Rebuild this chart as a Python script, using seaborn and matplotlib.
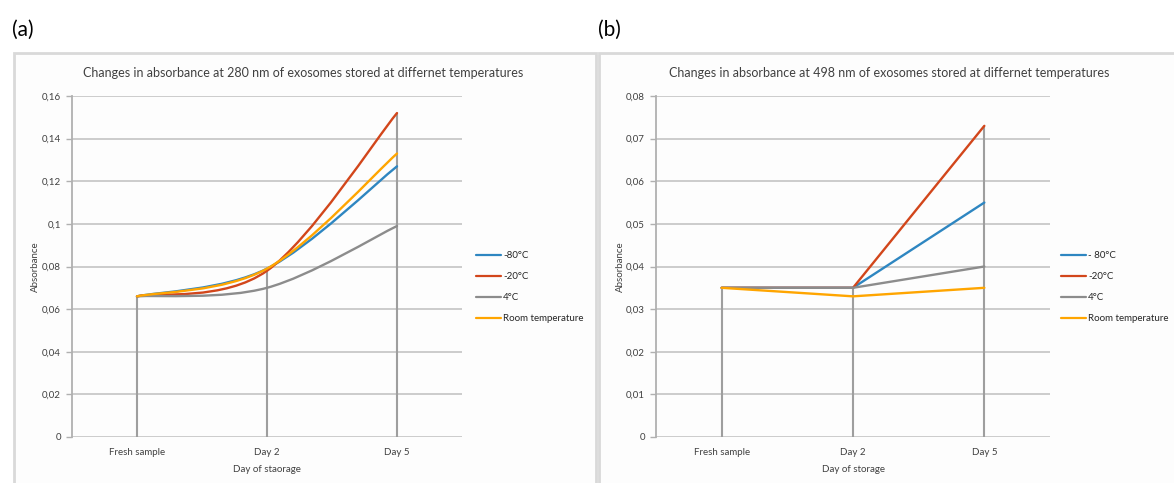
import matplotlib
matplotlib.use("Agg")
import matplotlib.pyplot as plt
from matplotlib.path import Path
from matplotlib.patches import PathPatch, Rectangle
from matplotlib.lines import Line2D
import seaborn as sns
import pandas as pd

# данные
days = ["Fresh sample", "Day 2", "Day 5"]
series_a = ["-80°C", "-20°C", "4°C", "Room temperature"]
series_b = ["- 80°C", "-20°C", "4°C", "Room temperature"]
colors = ["#2E86C1", "#D2461B", "#8C8C8C", "#FFA500"]

abs280_m80 = [0.066, 0.079, 0.127]
abs280_m20 = [0.066, 0.078, 0.152]
abs280_4 = [0.066, 0.070, 0.099]
abs280_rt = [0.066, 0.079, 0.133]

abs498_m80 = [0.035, 0.035, 0.055]
abs498_m20 = [0.035, 0.035, 0.073]
abs498_4 = [0.035, 0.035, 0.040]
abs498_rt = [0.035, 0.033, 0.035]

sns.set_style("white")
plt.rcParams['font.family'] = ['Lato', 'DejaVu Sans']

W, H = 1174, 483
fig = plt.figure(figsize=(W / 100, H / 100), dpi=100)
fig.patch.set_facecolor("white")


def px(x0, y0, x1, y1):
    return [x0 / W, 1 - y1 / H, (x1 - x0) / W, (y1 - y0) / H]


# рамки панелей
for x0, x1 in [(14, 596), (599, 1180)]:
    fig.patches.append(Rectangle((x0 / W, -0.02), (x1 - x0) / W, 1 - 53 / H + 0.02,
                                 transform=fig.transFigure, facecolor="#fdfdfd",
                                 edgecolor="#d9d9d9", lw=2, zorder=-10))


def smooth_path(xs, ys):
    # сглаживание как в Excel (Catmull-Rom -> Bezier)
    pts = list(zip(xs, ys))
    verts = [pts[0]]
    codes = [Path.MOVETO]
    for i in range(len(pts) - 1):
        p0 = pts[i - 1] if i > 0 else pts[i]
        p1, p2 = pts[i], pts[i + 1]
        p3 = pts[i + 2] if i + 2 < len(pts) else pts[i + 1]
        c1 = (p1[0] + (p2[0] - p0[0]) / 6, p1[1] + (p2[1] - p0[1]) / 6)
        c2 = (p2[0] - (p3[0] - p1[0]) / 6, p2[1] - (p3[1] - p1[1]) / 6)
        verts += [c1, c2, p2]
        codes += [Path.CURVE4] * 3
    return Path(verts, codes)


def style_axes(ax, ymax, step, xlabel):
    ax.set_facecolor("none")
    ax.set_xlim(-0.5, 2.5)
    ax.set_ylim(0, ymax)
    ticks = [round(i * step, 3) for i in range(int(round(ymax / step)) + 1)]
    ax.set_yticks(ticks)
    ax.set_yticklabels([f"{t:g}".replace(".", ",") for t in ticks], fontsize=7, color="#404040")
    ax.set_xticks(range(len(days)))
    ax.set_xticklabels(days, fontsize=7, color="#404040")
    ax.grid(axis="y", color="#c8c8c8", lw=1.3)
    ax.set_axisbelow(True)
    for s in ["top", "right", "bottom"]:
        ax.spines[s].set_visible(False)
    ax.spines["left"].set_color("#b0b0b0")
    ax.spines["left"].set_linewidth(1.3)
    ax.tick_params(axis="y", length=4, width=1, color="#b0b0b0", pad=4, left=True)
    ax.tick_params(axis="x", length=0, pad=8)
    ax.set_xlabel(xlabel, fontsize=7, color="#404040", labelpad=6)
    ax.set_ylabel("Absorbance", fontsize=7, color="#404040", labelpad=1)


handles = [Line2D([], [], color=c, lw=1.6) for c in colors]
leg_kw = dict(loc="upper left", frameon=False, fontsize=7, handlelength=2.6,
              handletextpad=0.2, labelspacing=1.25, borderpad=0, borderaxespad=0)

# (a) 280 nm
ax1 = fig.add_axes(px(72, 96, 462, 437))
data_a = [abs280_m80, abs280_m20, abs280_4, abs280_rt]
drop_a = [max(v[i] for v in data_a) for i in range(len(days))]
ax1.vlines(range(len(days)), 0, drop_a, color="#9e9e9e", lw=1.5, zorder=2)
for vals, c in zip(data_a, colors):
    ax1.add_patch(PathPatch(smooth_path(range(len(days)), vals), facecolor="none",
                            edgecolor=c, lw=1.7, zorder=3, capstyle="round"))
style_axes(ax1, 0.16, 0.02, "Day of staorage")
fig.legend(handles, series_a, bbox_to_anchor=(476 / W, 1 - 251 / H), **leg_kw)

# (b) 498 nm
ax2 = fig.add_axes(px(656, 96, 1050, 437))
data_b = [abs498_m80, abs498_m20, abs498_4, abs498_rt]
drop_b = [max(v[i] for v in data_b) for i in range(len(days))]
ax2.vlines(range(len(days)), 0, drop_b, color="#9e9e9e", lw=1.5, zorder=2)
df_b = pd.DataFrame({
    "day": list(range(len(days))) * 4,
    "value": abs498_m80 + abs498_m20 + abs498_4 + abs498_rt,
    "series": [s for s in series_b for _ in days],
})
sns.lineplot(data=df_b, x="day", y="value", hue="series", palette=colors,
             hue_order=series_b, lw=1.7, ax=ax2, legend=False, zorder=3)
style_axes(ax2, 0.08, 0.01, "Day of storage")
fig.legend(handles, series_b, bbox_to_anchor=(1061 / W, 1 - 251 / H), **leg_kw)

# заголовки
fig.text(303 / W, 1 - 73 / H,
         "Changes in absorbance at 280 nm of exosomes stored at differnet temperatures",
         ha="center", va="center", fontsize=9, color="#404040")
fig.text(889 / W, 1 - 73 / H,
         "Changes in absorbance at 498 nm of exosomes stored at differnet temperatures",
         ha="center", va="center", fontsize=9, color="#404040")
fig.text(12 / W, 1 - 30 / H, "(a)", ha="left", va="center", fontsize=15, color="black")
fig.text(598 / W, 1 - 30 / H, "(b)", ha="left", va="center", fontsize=15, color="black")

fig.savefig("out.png", dpi=100, facecolor="white")
